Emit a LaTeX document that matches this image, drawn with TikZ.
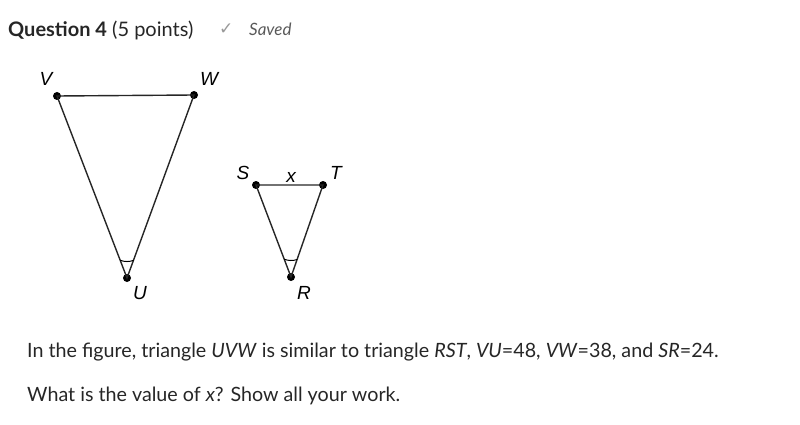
\documentclass[tikz,border=0pt]{standalone}
\usepackage{fontspec}
\usetikzlibrary{calc}
\setmainfont{Lato}
\newfontfamily\lab{Liberation Sans}
\newfontfamily\dej{DejaVu Sans}
\begin{document}
\begin{tikzpicture}[x=1pt,y=-1pt,
  pt/.style={circle,fill=black,inner sep=0pt,minimum size=8pt},
  lb/.style={font=\lab\itshape\fontsize{19}{19}\selectfont,inner sep=0pt},
  side/.style={line width=1.4pt,draw=black!85},
  txt/.style={anchor=west,inner sep=0pt,font=\fontsize{19.7}{22}\selectfont,text=black!85}]
\useasboundingbox (0,0) rectangle (800,425);
\node[pt] (V) at (57,96) {};
\node[pt] (W) at (194,95) {};
\node[pt] (U) at (127,278) {};
\node[pt] (S) at (256,185) {};
\node[pt] (T) at (323,185) {};
\node[pt] (R) at (291,277) {};
\draw[side] (V.center)--(W.center)--(U.center)--cycle;
\draw[side] (S.center)--(T.center)--(R.center)--cycle;
\draw[line width=1pt] ($(U.center)!19pt!(V.center)$) arc[start angle=-111,end angle=-69,radius=19pt];
\draw[line width=1pt] ($(R.center)!19pt!(S.center)$) arc[start angle=-111,end angle=-71,radius=19pt];
\node[lb] (lV) at (46,79) {V};
\node[lb] (lW) at (209,79) {W};
\node[lb] (lU) at (140,293) {U};
\node[lb] (lS) at (243,173) {S};
\node[lb] (lx) at (291,177) {x};
\node[lb] (lT) at (336,173) {T};
\node[lb] (lR) at (304,293) {R};
\node[txt,font=\fontsize{20}{22}\selectfont] (h) at (8,30) {\textbf{Question 4} (5 points)};
\node[anchor=west,inner sep=0pt,text=black!40,font=\dej\fontsize{17}{17}\selectfont] (ck) at (219,29) {✓};
\node[anchor=west,inner sep=0pt,text=black!65,font=\itshape\fontsize{17}{17}\selectfont] (sv) at (249,29) {Saved};
\node[txt] (t1) at (27,352) {In the figure, triangle \textit{UVW} is similar to triangle \textit{RST}, \textit{VU}=48, \textit{VW}=38, and \textit{SR}=24.};
\node[txt] (t2) at (27,396) {What is the value of \textit{x}? Show all your work.};
\end{tikzpicture}
\end{document}
